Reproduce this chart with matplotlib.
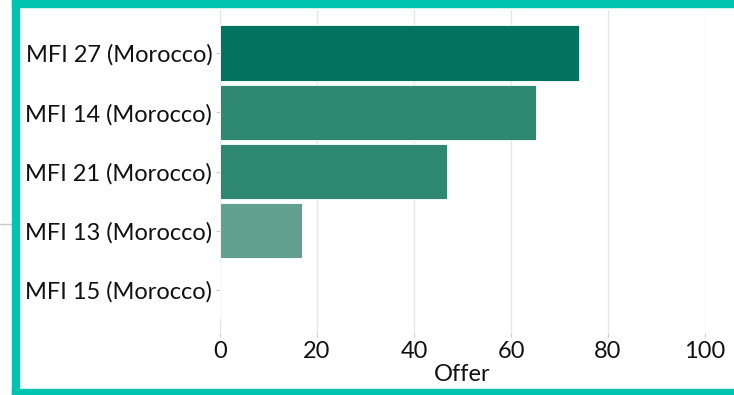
import matplotlib.pyplot as plt
from matplotlib.patches import Rectangle
from matplotlib.lines import Line2D

# data
mfis = ['MFI 27 (Morocco)', 'MFI 14 (Morocco)', 'MFI 21 (Morocco)',
        'MFI 13 (Morocco)', 'MFI 15 (Morocco)']
offer = [74, 65.2, 46.8, 17, 0]
bar_colors = ['#02735e', '#2f8872', '#2f8872', '#62a190', '#62a190']
xticks = [0, 20, 40, 60, 80, 100]

plt.rcParams['font.family'] = ['Lato', 'DejaVu Sans']

W, H = 734, 395
fig = plt.figure(figsize=(W / 100, H / 100), dpi=100)
fig.patch.set_facecolor('white')

# axes placed in pixel terms: x 220..705, y 10..333
ax = fig.add_axes([220 / W, 1 - 333 / H, (705 - 220) / W, (333 - 10) / H])

pos = list(range(len(mfis)))
ax.barh(pos, offer, height=0.94, color=bar_colors, edgecolor='white',
        linewidth=0.6, zorder=2)

ax.set_xlim(0, 100)
ax.set_ylim(4.73, -0.73)
ax.set_xticks(xticks)
ax.set_yticks(pos)
ax.set_yticklabels(mfis)
ax.tick_params(axis='both', labelsize=17, colors='#cccccc', labelcolor='#111111',
               length=3, width=0.8, pad=2.5)
ax.set_xlabel('Offer', fontsize=17, color='#111111', labelpad=1.5)
ax.grid(axis='x', color='#e6e6e6', linewidth=1, zorder=0)
for s in ax.spines.values():
    s.set_visible(False)

# teal frame: top, bottom, left (right edge is cut off)
teal = '#00c4b0'
frame = [
    (12 / W, 1 - 6.5 / H, 1, 6.5 / H),
    (12 / W, 0, 1, 6.5 / H),
    (12 / W, 0, 7 / W, 1),
]
for x0, y0, w, h in frame:
    fig.patches.append(Rectangle((x0, y0), w, h, transform=fig.transFigure,
                                 color=teal, zorder=5))
fig.add_artist(Line2D([0, 12 / W], [1 - 224 / H, 1 - 224 / H], transform=fig.transFigure,
                      color='#cccccc', linewidth=1))

fig.savefig('out.png', dpi=100)
